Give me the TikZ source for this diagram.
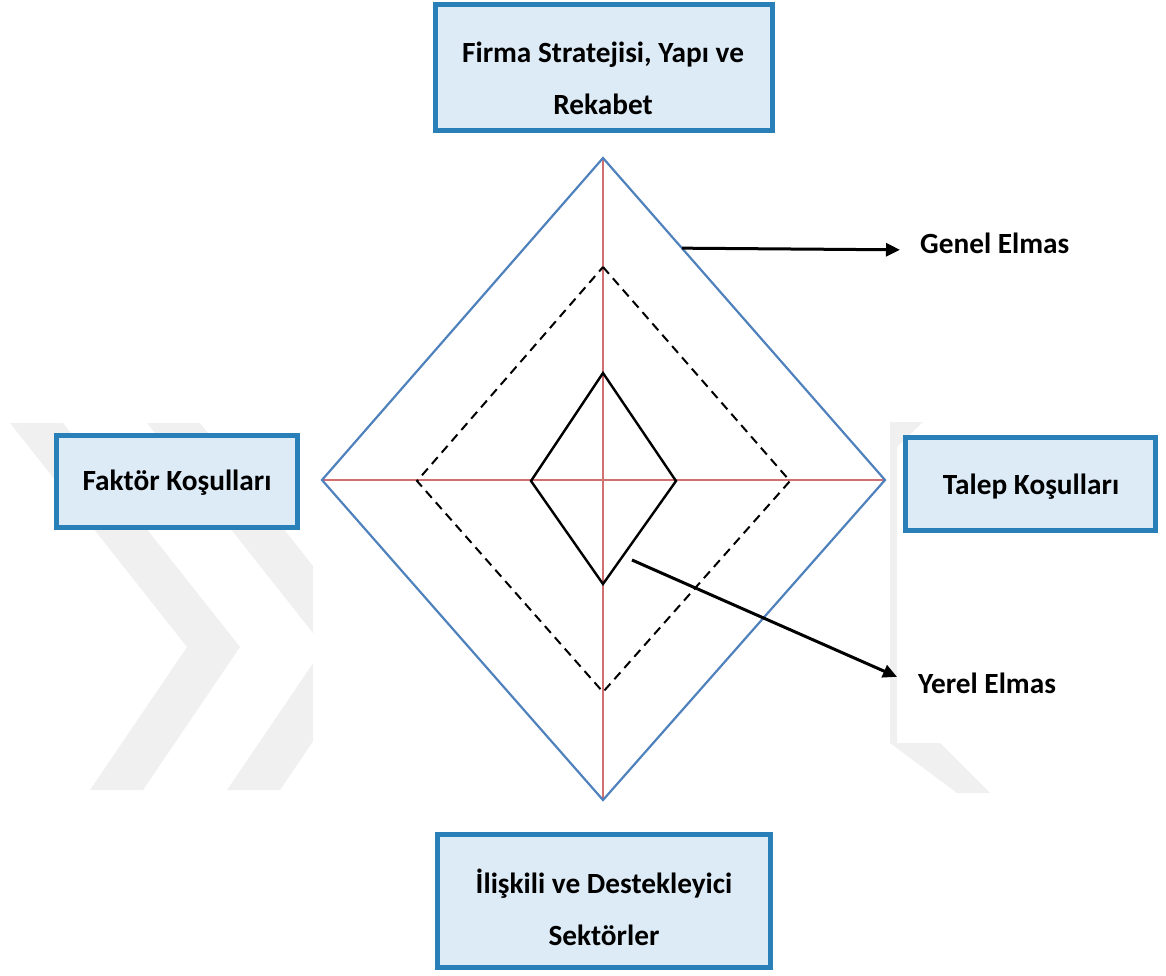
\documentclass[tikz,border=0pt]{standalone}
\usepackage{fontspec}
\setmainfont{Carlito}
\usetikzlibrary{arrows.meta,calc}
\definecolor{boxline}{RGB}{41,128,185}
\definecolor{boxfill}{RGB}{221,235,247}
\definecolor{outerblue}{RGB}{79,129,189}
\definecolor{axisred}{RGB}{208,112,112}
\definecolor{wmgray}{RGB}{240,240,240}
\begin{document}
\begin{tikzpicture}[x=1pt,y=-1pt,
  box/.style={draw=boxline, line width=5pt, fill=boxfill, inner sep=0pt},
  lbl/.style={font=\fontsize{29.3}{52}\selectfont\bfseries, align=center, inner sep=0pt},
  axis/.style={draw=axisred, line width=1.2pt},
  outerd/.style={draw=outerblue, line width=2.2pt, line join=miter},
  midd/.style={draw=black, line width=2pt, dash pattern=on 9pt off 6pt},
  innerd/.style={draw=black, line width=2.4pt, line join=miter},
  pointer/.style={draw=black, line width=3pt, -{Triangle[length=14pt,width=13pt]}}]
\useasboundingbox (0,0) rectangle (1166,975);

% faint background chevrons
\fill[wmgray] (10,423) -- (63,423) -- (240,647) -- (143,790) -- (90,790) -- (187,647) -- cycle;
\begin{scope}
  \clip (0,0) rectangle (313,975);
  \fill[wmgray] (147,423) -- (200,423) -- (377,647) -- (280,790) -- (227,790) -- (324,647) -- cycle;
\end{scope}
\fill[wmgray] (890,422) -- (923,422) -- (897,447) -- (897,743) -- (940,743) -- (990,793)
  -- (957,793) -- (890,743) -- cycle;

% corner boxes
\node[box, minimum width=337pt, minimum height=126pt] (firma) at (604,67.5) {};
\node[box, minimum width=241pt, minimum height=92pt] (faktor) at (177,481.5) {};
\node[box, minimum width=250pt, minimum height=93pt] (talep) at (1030.5,484) {};
\node[box, minimum width=333pt, minimum height=133pt] (iliskili) at (604,901) {};

\node[lbl] (firmatxt) at (603,78) {Firma Stratejisi, Yapı ve\\Rekabet};
\node[lbl, anchor=base] (faktortxt) at (177,490) {Faktör Koşulları};
\node[lbl, anchor=base] (taleptxt) at (1031,494) {Talep Koşulları};
\node[lbl] (iliskilitxt) at (604,907) {İlişkili ve Destekleyici\\Sektörler};

% diamond vertices
\coordinate (gT) at (603,158); \coordinate (gL) at (322,480);
\coordinate (gR) at (885,480); \coordinate (gB) at (603,800);
\coordinate (mT) at (603,267); \coordinate (mL) at (417,481);
\coordinate (mR) at (790,481); \coordinate (mB) at (603,692);
\coordinate (iT) at (603,373); \coordinate (iL) at (531,481);
\coordinate (iR) at (676,481); \coordinate (iB) at (603,584);

% axes
\draw[axis] (gT) -- (gB);
\draw[axis] (gL) -- (gR);

% diamonds
\draw[outerd] (gT) -- (gR) -- (gB) -- (gL) -- cycle;
\draw[midd] (mT) -- (mR) -- (mB) -- (mL) -- cycle;
\draw[innerd] (iT) -- (iR) -- (iB) -- (iL) -- cycle;

% callouts
\node[lbl, anchor=base west] (genel) at (920,253) {Genel Elmas};
\node[lbl, anchor=base west] (yerel) at (918,693) {Yerel Elmas};
\coordinate (gstart) at ($(gT)!0.28!(gR)$);
\coordinate (ystart) at (632,560);
\draw[pointer] (gstart) -- ([xshift=-20pt,yshift=-7pt]genel.west);
\draw[pointer] (ystart) -- ([xshift=-21pt,yshift=6pt]yerel.west);
\end{tikzpicture}
\end{document}
